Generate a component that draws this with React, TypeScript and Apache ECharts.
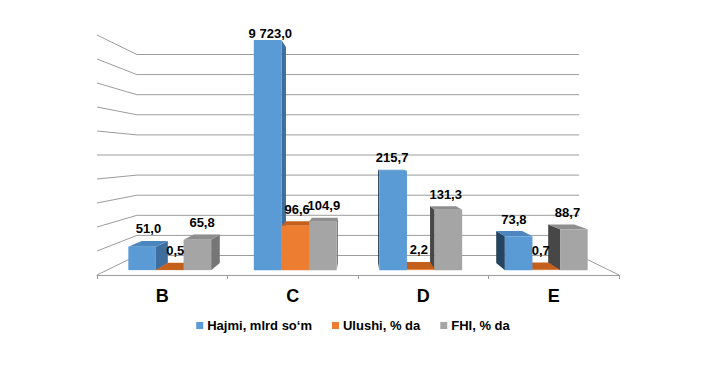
import React, { useEffect, useRef } from "react";
import * as echarts from "echarts";

const CATEGORIES = ["B", "C", "D", "E"];
const SERIES_NAMES = ["Hajmi, mlrd so\u2018m", "Ulushi, % da", "FHI, % da"];
const HAJMI = [51.0, 9723.0, 215.7, 73.8];
const ULUSHI = [0.5, 96.6, 2.2, 0.7];
const FHI = [65.8, 104.9, 131.3, 88.7];
const Y_TICKS = [0, 50, 100, 150, 200, 250, 300, 350, 400, 450, 500];
const Y_MAX = 500;

const FONT = "Arial, 'Liberation Sans', sans-serif";

// face colours: front, top, right side, left side
const PALETTE = [
  { front: "#5B9BD5", top: "#4B86BF", right: "#3D6E9E", left: "#26435F" },
  { front: "#ED7D31", top: "#C5601C", right: "#B35C22", left: "#7A3C14" },
  { front: "#A5A5A5", top: "#8E8E8E", right: "#767676", left: "#474747" },
];

// perspective: back wall scale
const SX_BACK = 0.847;
const SY_BACK = 0.8375;
const T_FRONT = 0.25;
const T_BACK = 0.62;

function fmt(v: number) {
  const s = v.toFixed(1);
  const [i, d] = s.split(".");
  return i.replace(/\B(?=(\d{3})+(?!\d))/g, " ") + "," + d;
}

function makeProj(cs: any) {
  const vx = cs.x + cs.width / 2;
  const vy = cs.y + cs.height / 2;
  return (x: number, y: number, t: number) => {
    const sx = 1 - t * (1 - SX_BACK);
    const sy = 1 - t * (1 - SY_BACK);
    return [vx + (x - vx) * sx, vy + (y - vy) * sy];
  };
}

export default function App() {
  const ref = useRef<HTMLDivElement>(null);
  useEffect(() => {
    if (!ref.current) return;
    const chart = echarts.init(ref.current, undefined, { renderer: "svg" });
    const lineColor = "#9c9c9c";

    const gridSeries: any = {
      type: "custom",
      name: "_grid",
      z: 1,
      silent: true,
      data: Y_TICKS.map((v) => [0, v]),
      encode: { x: 0, y: 1 },
      renderItem: (params: any, api: any) => {
        const cs = params.coordSys;
        const proj = makeProj(cs);
        const v = api.value(1);
        const yF = api.coord([0, v])[1];
        const xL = cs.x;
        const xR = cs.x + cs.width;
        const bl = proj(xL, yF, 1);
        const br = proj(xR, yF, 1);
        const st = { stroke: lineColor, lineWidth: 1, fill: null };
        const children: any[] = [
          { type: "line", shape: { x1: xL, y1: yF, x2: bl[0], y2: bl[1] }, style: st },
          { type: "line", shape: { x1: bl[0], y1: bl[1], x2: br[0], y2: br[1] }, style: st },
        ];
        if (v === 0) {
          children.push({ type: "line", shape: { x1: br[0], y1: br[1], x2: xR, y2: yF }, style: st });
        }
        return { type: "group", children };
      },
    };

    const makeBarSeries = (sIdx: number, values: number[]) => ({
      type: "custom",
      name: SERIES_NAMES[sIdx],
      z: 2,
      itemStyle: { color: PALETTE[sIdx].front },
      data: values.map((v, i) => [i, v]),
      encode: { x: 0, y: 1 },
      renderItem: (params: any, api: any) => {
        const cs = params.coordSys;
        const proj = makeProj(cs);
        const vx = cs.x + cs.width / 2;
        const vy = cs.y + cs.height / 2;
        const ci = api.value(0);
        const v = api.value(1);
        const vc = Math.min(v, Y_MAX);
        const band = api.size([1, 0])[0];
        const base = api.coord([ci, 0]);
        const topY = api.coord([ci, vc])[1];
        const baseY = base[1];
        const groupW = band * 0.66;
        const barW = groupW / 3;
        const x0 = base[0] - groupW / 2 + sIdx * barW;
        const x1 = x0 + barW;
        const c = PALETTE[sIdx];
        const ftl = proj(x0, topY, T_FRONT);
        const ftr = proj(x1, topY, T_FRONT);
        const fbl = proj(x0, baseY, T_FRONT);
        const fbr = proj(x1, baseY, T_FRONT);
        const btl = proj(x0, topY, T_BACK);
        const btr = proj(x1, topY, T_BACK);
        const bbl = proj(x0, baseY, T_BACK);
        const bbr = proj(x1, baseY, T_BACK);
        const leftOfV = (x0 + x1) / 2 < vx;
        const z2 = 10 + (leftOfV ? sIdx : 2 - sIdx) * 3;
        const children: any[] = [];
        if (x1 < vx) {
          children.push({ type: "polygon", z2, shape: { points: [ftr, btr, bbr, fbr] }, style: { fill: c.right } });
        } else if (x0 > vx) {
          children.push({ type: "polygon", z2, shape: { points: [ftl, btl, bbl, fbl] }, style: { fill: c.left } });
        }
        if (topY > vy) {
          children.push({ type: "polygon", z2: z2 + 1, shape: { points: [ftl, ftr, btr, btl] }, style: { fill: c.top } });
        }
        children.push({ type: "polygon", z2: z2 + 2, shape: { points: [ftl, ftr, fbr, fbl] }, style: { fill: c.front } });
        const tm = (T_FRONT + T_BACK) / 2;
        const mid = proj((x0 + x1) / 2, topY, tm);
        const clipped = v > Y_MAX;
        const ly = Math.min(ftl[1], btl[1]) - (clipped ? 6 : 12);
        children.push({
          type: "text",
          z2: 100,
          style: {
            text: fmt(v),
            x: mid[0],
            y: ly,
            textAlign: "center",
            textVerticalAlign: "middle",
            align: "center",
            verticalAlign: "middle",
            font: `bold 13px ${FONT}`,
            fill: "#000",
          },
        });
        return { type: "group", children };
      },
    });

    chart.setOption({
      animation: false,
      color: PALETTE.map((p) => p.front),
      grid: { left: 97, top: 35, width: 522, height: 240, containLabel: false },
      legend: {
        data: SERIES_NAMES,
        bottom: 30,
        left: "center",
        icon: "rect",
        itemWidth: 7,
        itemHeight: 7,
        itemGap: 20,
        textStyle: { fontFamily: FONT, fontWeight: "bold", fontSize: 13, color: "#000", padding: [0, 0, 0, -1] },
      },
      xAxis: {
        type: "category",
        data: CATEGORIES,
        axisLine: { lineStyle: { color: lineColor, width: 1 } },
        axisTick: { show: true, length: 4, lineStyle: { color: lineColor } },
        axisLabel: { fontFamily: FONT, fontWeight: "bold", fontSize: 18, color: "#000", margin: 12 },
      },
      yAxis: {
        type: "value",
        min: 0,
        max: Y_MAX,
        interval: 50,
        show: false,
        splitLine: { show: false },
      },
      series: [gridSeries, makeBarSeries(0, HAJMI), makeBarSeries(1, ULUSHI), makeBarSeries(2, FHI)],
    });
    return () => chart.dispose();
  }, []);
  return (
    <div
      ref={ref}
      style={{ position: "absolute", left: 0, top: 0, width: 706, height: 367, background: "#fff" }}
    />
  );
}
